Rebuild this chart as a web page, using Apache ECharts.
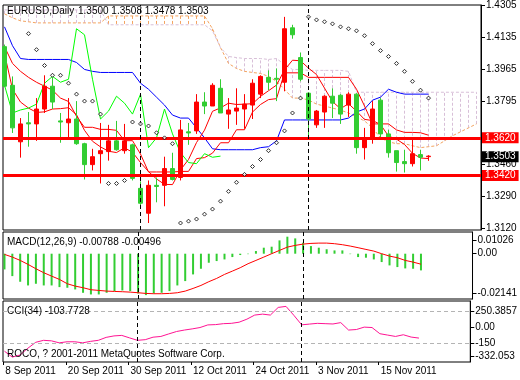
<!DOCTYPE html>
<html><head><meta charset="utf-8">
<script src="https://cdn.jsdelivr.net/npm/echarts@6/dist/echarts.min.js"></script>
<style>html,body{margin:0;padding:0;background:#fff}#c{width:520px;height:380px}</style>
</head><body><div id="c"></div>
<script>
const FONT = 'Liberation Sans';
const FS = 10;
const headerSymbol = 'EURUSD,Daily';
const headerValues = '1.3500 1.3508 1.3478 1.3503';
const macdTitle = 'MACD(12,26,9) -0.00788 -0.00496';
const cciTitle = 'CCI(34) -103.7728';
const copyright = 'ROCO, ? 2001-2011 MetaQuotes Software Corp.';

const opens  = [1.4084,1.3879,1.3579,1.3680,1.3674,1.3753,1.3874,1.3690,1.3680,1.3700,1.3569,1.3458,1.3516,1.3527,1.3584,1.3532,1.3563,1.3332,1.3200,1.3348,1.3348,1.3437,1.3390,1.3632,1.3637,1.3790,1.3769,1.3863,1.3726,1.3742,1.3753,1.3774,1.3832,1.3921,1.3916,1.3895,1.4184,1.4026,1.3837,1.3669,1.3737,1.3821,1.3826,1.3774,1.3832,1.3548,1.3600,1.3800,1.3621,1.3532,1.3474,1.3463,1.3511,1.3500];
const closes = [1.3874,1.3653,1.3674,1.3674,1.3753,1.3874,1.3790,1.3684,1.3700,1.3569,1.3458,1.3500,1.3532,1.3584,1.3537,1.3584,1.3385,1.3253,1.3348,1.3342,1.3437,1.3379,1.3642,1.3626,1.3790,1.3769,1.3879,1.3732,1.3748,1.3758,1.3779,1.3890,1.3926,1.3895,1.3911,1.4179,1.4147,1.3911,1.3700,1.3742,1.3821,1.3784,1.3726,1.3832,1.3548,1.3600,1.3753,1.3621,1.3521,1.3469,1.3463,1.3516,1.3497,1.3503];
const lows   = [1.3869,1.3626,1.3495,1.3553,1.3584,1.3732,1.3753,1.3574,1.3590,1.3563,1.3379,1.3427,1.3358,1.3479,1.3532,1.3516,1.3374,1.3232,1.3148,1.3258,1.3237,1.3374,1.3374,1.3563,1.3621,1.3726,1.3769,1.3732,1.3648,1.3669,1.3648,1.3700,1.3811,1.3853,1.3795,1.3847,1.4126,1.3900,1.3600,1.3653,1.3653,1.3705,1.3674,1.3711,1.3516,1.3485,1.3569,1.3590,1.3495,1.3421,1.3416,1.3448,1.3427,1.3478];
const highs  = [1.4095,1.3926,1.3705,1.3737,1.3811,1.3932,1.3921,1.3732,1.3811,1.3795,1.3574,1.3542,1.3679,1.3669,1.3690,1.3674,1.3569,1.3369,1.3374,1.3390,1.3500,1.3521,1.3695,1.3679,1.3832,1.3842,1.3890,1.3911,1.3811,1.3863,1.3832,1.3911,1.3932,1.3958,1.3968,1.4242,1.4200,1.4053,1.3842,1.3748,1.3826,1.3863,1.3832,1.3842,1.3837,1.3653,1.3795,1.3811,1.3642,1.3532,1.3537,1.3590,1.3537,1.3508];

const tenkan = [1.4084,1.3995,1.3953,1.3921,1.3895,1.3874,1.3853,1.3811,1.3793,1.3714,1.3656,1.3656,1.3645,1.3645,1.3640,1.3585,1.3585,1.3514,1.3419,1.3419,1.3419,1.3419,1.3422,1.3422,1.3490,1.3495,1.3519,1.3574,1.3574,1.3643,1.3643,1.3737,1.3777,1.3803,1.3808,1.3945,1.3945,1.3945,1.3921,1.3921,1.3921,1.3921,1.3921,1.3921,1.3858,1.3769,1.3674,1.3674,1.3674,1.3642,1.3629,1.3629,1.3627,1.3614];
const kijun = [1.4189,1.4089,1.4021,1.4016,1.4016,1.4016,1.4016,1.4016,1.4016,1.4000,1.3963,1.3953,1.3947,1.3947,1.3947,1.3947,1.3947,1.3890,1.3858,1.3816,1.3774,1.3721,1.3705,1.3705,1.3653,1.3600,1.3542,1.3537,1.3537,1.3537,1.3537,1.3537,1.3548,1.3553,1.3584,1.3695,1.3695,1.3695,1.3695,1.3695,1.3695,1.3695,1.3695,1.3705,1.3737,1.3753,1.3800,1.3816,1.3858,1.3842,1.3832,1.3832,1.3832,1.3832];
const ma5 = [1.4047,1.3858,1.3790,1.3758,1.3735,1.3738,1.3753,1.3755,1.3760,1.3723,1.3640,1.3582,1.3552,1.3529,1.3522,1.3547,1.3524,1.3469,1.3421,1.3382,1.3353,1.3352,1.3430,1.3485,1.3575,1.3641,1.3741,1.3759,1.3784,1.3777,1.3779,1.3781,1.3820,1.3850,1.3880,1.3960,1.4012,1.4009,1.3970,1.3936,1.3864,1.3792,1.3755,1.3781,1.3742,1.3698,1.3692,1.3671,1.3609,1.3593,1.3565,1.3518,1.3493,1.3490];
const chikou = [1.3879,1.3732,1.3748,1.3758,1.3779,1.3890,1.3926,1.3895,1.3911,1.4179,1.4147,1.3911,1.3700,1.3742,1.3821,1.3784,1.3726,1.3832,1.3548,1.3600,1.3753,1.3621,1.3521,1.3469,1.3463,1.3516,1.3497,1.3503];
const senkouA = [1.4258,1.4237,1.4221,1.4216,1.4210,1.4210,1.4210,1.4210,1.4210,1.4210,1.4210,1.4210,1.4210,1.4247,1.4247,1.4247,1.4247,1.4247,1.4247,1.4247,1.4247,1.4247,1.4247,1.4247,1.4247,1.4247,1.4179,1.4079,1.3995,1.3968,1.3953,1.3947,1.3942,1.3926,1.3900,1.3858,1.3811,1.3811,1.3801,1.3779,1.3769,1.3758,1.3747,1.3732,1.3711,1.3690,1.3653,1.3600,1.3579,1.3569,1.3569,1.3558,1.3548,1.3553,1.3558,1.3584,1.3611,1.3632,1.3653,1.3674];
const senkouB = [1.4279,1.4279,1.4279,1.4279,1.4279,1.4279,1.4279,1.4279,1.4279,1.4279,1.4279,1.4279,1.4279,1.4200,1.4200,1.4200,1.4200,1.4200,1.4200,1.4200,1.4200,1.4200,1.4200,1.4200,1.4200,1.4200,1.4168,1.4079,1.4032,1.4026,1.4021,1.4021,1.4021,1.4016,1.4021,1.3989,1.3963,1.3963,1.3958,1.3958,1.3958,1.3958,1.3958,1.3953,1.3842,1.3842,1.3842,1.3842,1.3842,1.3842,1.3842,1.3842,1.3842,1.3842,1.3842,1.3842,1.3842,1.3842,1.3842,1.3842];
const sar = [null,null,null,1.4153,1.4068,1.3984,1.3932,1.3932,1.3890,1.3832,1.3795,1.3795,1.3726,1.3358,1.3358,1.3374,1.3684,1.3674,1.3663,1.3627,1.3600,1.3569,1.3148,1.3158,1.3169,1.3195,1.3222,1.3264,1.3316,1.3364,1.3406,1.3448,1.3485,1.3532,1.3574,1.3637,1.3732,1.3811,1.4242,1.4226,1.4216,1.4205,1.4189,1.4179,1.4168,1.4142,1.4100,1.4063,1.4032,1.3995,1.3953,1.3900,1.3853,1.3811];

const levelPrices = [1.3620, 1.3420];
const bidPrice = 1.3503;
const separatorBars = [17, 38];
const priceTicks = [1.3120,1.3290,1.3460,1.3625,1.3795,1.3965,1.4135,1.4305];
const priceLabels = [1.3120,1.3290,1.3460,1.3795,1.3965,1.4135,1.4305];

const macdHist = [-0.00743,-0.01059,-0.01326,-0.01500,-0.01421,-0.01500,-0.01500,-0.01579,-0.01610,-0.01689,-0.01847,-0.01925,-0.01925,-0.01847,-0.01768,-0.01736,-0.01768,-0.01878,-0.01957,-0.01878,-0.01847,-0.01768,-0.01500,-0.01294,-0.00979,-0.00711,-0.00427,-0.00348,-0.00270,-0.00159,-0.00063,-0.00020,0.00126,0.00284,0.00331,0.00629,0.00804,0.00724,0.00520,0.00361,0.00284,0.00210,0.00156,0.00156,-0.00020,-0.00159,-0.00189,-0.00270,-0.00395,-0.00553,-0.00632,-0.00695,-0.00711,-0.00788];
const macdSignal = [-0.00033,-0.00159,-0.00317,-0.00506,-0.00711,-0.00899,-0.01059,-0.01216,-0.01421,-0.01532,-0.01608,-0.01703,-0.01736,-0.01768,-0.01783,-0.01797,-0.01816,-0.01845,-0.01878,-0.01892,-0.01892,-0.01878,-0.01845,-0.01768,-0.01641,-0.01500,-0.01324,-0.01168,-0.00979,-0.00823,-0.00662,-0.00473,-0.00317,-0.00160,0.00000,0.00156,0.00312,0.00393,0.00454,0.00487,0.00501,0.00501,0.00473,0.00426,0.00361,0.00284,0.00203,0.00123,0.00000,-0.00113,-0.00189,-0.00317,-0.00397,-0.00496];
const macdTickValues = [0.00648, 0, -0.01857];
const macdTickLabels = ['0.01026', '0.00', '-0.02141'];

const cci = [-229,-285,-265,-200,-144,-125,-130,-149,-139,-139,-149,-135,-125,-97,-83,-78,-102,-125,-119,-95,-88,-64,-41,-27,-16,-3,22,25,34,37,48,77,116,125,116,189,199,114,23,30,37,34,31,44,-27,-22,1,-3,-62,-75,-88,-72,-94,-103.77];
const cciLevels = [150, -150];
const cciTickValues = [155, 0, -150, -275];
const cciTickLabels = ['250.3857', '0.00', '-150', '-332.053'];

const dateTickBars = [0, 8, 16, 24, 32, 40, 48];
const dateTickLabels = ['8 Sep 2011','20 Sep 2011','30 Sep 2011','12 Oct 2011','24 Oct 2011','3 Nov 2011','15 Nov 2011'];

const C_RED = '#ff0000', C_GREEN = '#32cd32', C_LIME = '#00ff00', C_BLUE = '#0000ff';
const C_SANDY = '#f4a460', C_THISTLE = '#d8bfd8', C_PINK = '#ff1493';

const pairs = arr => arr.map((v, i) => [i, v]);
const nearestLabel = (vals, labels) => v => {
  let best = 0;
  vals.forEach((x, k) => { if (Math.abs(x - v) < Math.abs(vals[best] - v)) best = k; });
  return labels[best];
};

const XMIN = -0.1875, XMAX = 59.5625;
const TICK_SHIFT = 0.15;
const grids = [
  { left: 3, right: 39, top: 3, height: 227 },
  { left: 3, right: 39, top: 232, height: 67 },
  { left: 3, right: 39, top: 301, height: 61 }
];
const gridStyle = { show: true, borderColor: '#000', borderWidth: 1, backgroundColor: '#fff' };

const hiddenX = gi => ({
  type: 'value', gridIndex: gi, min: XMIN, max: XMAX,
  axisLine: { show: false, onZero: false }, axisTick: { show: false }, axisLabel: { show: false }, splitLine: { show: false }
});

const yBase = (gi, min, max, tickVals, labelVals, fmt) => ({
  type: 'value', gridIndex: gi, position: 'right', min, max, scale: true,
  axisLine: { show: true, onZero: false, lineStyle: { color: '#000', width: 1 } },
  axisTick: { show: true, inside: false, length: 4, lineStyle: { color: '#000' }, customValues: tickVals },
  axisLabel: { show: true, margin: 5, color: '#000', fontFamily: FONT, fontSize: FS, customValues: labelVals, formatter: fmt, align: 'left', hideOverlap: false },
  splitLine: { show: false }
});

const sepData = separatorBars.map(b => ({ xAxis: b, lineStyle: { color: '#000', width: 1, type: [4, 3] }, label: { show: false } }));

const boxLabel = (text, bg) => ({
  show: true, position: 'end', distance: 1, formatter: text, color: '#fff', backgroundColor: bg,
  fontFamily: FONT, fontSize: FS, lineHeight: 10, padding: [1, 3, 0, 3]
});

const chart = echarts.init(document.getElementById('c'), null, { renderer: 'canvas' });
chart.setOption({
  animation: false,
  backgroundColor: '#fff',
  grid: grids.map(g => Object.assign({}, g, gridStyle)),
  xAxis: [
    hiddenX(0), hiddenX(1),
    {
      type: 'value', gridIndex: 2, min: XMIN, max: XMAX,
      axisLine: { show: false, onZero: false },
      axisTick: { show: true, length: 3, lineStyle: { color: '#000' }, customValues: dateTickBars.map(b => b - TICK_SHIFT) },
      axisLabel: { show: true, margin: 4, color: '#000', fontFamily: FONT, fontSize: FS, align: 'left', padding: [0, 0, 0, 2], hideOverlap: false,
        customValues: dateTickBars.map(b => b - TICK_SHIFT),
        formatter: v => dateTickLabels[dateTickBars.indexOf(Math.round(v + TICK_SHIFT))] },
      splitLine: { show: false }
    }
  ],
  yAxis: [
    yBase(0, 1.3111, 1.4305, priceTicks, priceLabels, v => v.toFixed(4)),
    yBase(1, -0.02141, 0.01026, macdTickValues, macdTickValues, nearestLabel(macdTickValues, macdTickLabels)),
    yBase(2, -332.053, 250.3857, cciTickValues, cciTickValues, nearestLabel(cciTickValues, cciTickLabels))
  ],
  graphic: [
    { type: 'text', x: 7, y: 11, z: 100, style: { text: headerSymbol, fill: '#000', fontFamily: FONT, fontSize: FS, verticalAlign: 'middle' } },
    { type: 'text', x: 78, y: 11, z: 100, style: { text: headerValues, fill: '#000', fontFamily: FONT, fontSize: FS, verticalAlign: 'middle' } },
    { type: 'text', x: 7, y: 242, z: 100, style: { text: macdTitle, fill: '#000', fontFamily: FONT, fontSize: FS, verticalAlign: 'middle' } },
    { type: 'text', x: 7, y: 311, z: 100, style: { text: cciTitle, fill: '#000', fontFamily: FONT, fontSize: FS, verticalAlign: 'middle' } },
    { type: 'text', x: 7, y: 354, z: 100, style: { text: copyright, fill: '#000', fontFamily: FONT, fontSize: FS, verticalAlign: 'middle' } }
  ],
  series: [
    {
      type: 'custom', xAxisIndex: 0, yAxisIndex: 0, z: 1, clip: true, silent: true,
      data: senkouA.map((a, i) => [i, a, senkouB[i]]),
      renderItem: (params, api) => {
        const x = api.value(0), a = api.value(1), b = api.value(2);
        const p1 = api.coord([x, a]), p2 = api.coord([x, b]);
        return { type: 'line', shape: { x1: p1[0], y1: p1[1], x2: p2[0], y2: p2[1] },
          style: { stroke: a >= b ? C_SANDY : C_THISTLE, lineWidth: 1, lineDash: [3, 2] } };
      }
    },
    { type: 'line', xAxisIndex: 0, yAxisIndex: 0, z: 2, data: pairs(senkouA), showSymbol: false, silent: true,
      lineStyle: { color: C_SANDY, width: 1, type: [3, 2] } },
    { type: 'line', xAxisIndex: 0, yAxisIndex: 0, z: 2, data: pairs(senkouB), showSymbol: false, silent: true,
      lineStyle: { color: C_THISTLE, width: 1, type: [3, 2] } },
    { type: 'line', xAxisIndex: 0, yAxisIndex: 0, z: 3, data: pairs(kijun), showSymbol: false, silent: true,
      lineStyle: { color: C_BLUE, width: 1 } },
    { type: 'line', xAxisIndex: 0, yAxisIndex: 0, z: 3, data: pairs(tenkan), showSymbol: false, silent: true,
      lineStyle: { color: C_RED, width: 1 } },
    { type: 'line', xAxisIndex: 0, yAxisIndex: 0, z: 3, data: pairs(ma5), showSymbol: false, silent: true,
      lineStyle: { color: C_RED, width: 1 } },
    { type: 'line', xAxisIndex: 0, yAxisIndex: 0, z: 3, data: pairs(chikou), showSymbol: false, silent: true,
      lineStyle: { color: C_LIME, width: 1 } },
    {
      type: 'candlestick', xAxisIndex: 0, yAxisIndex: 0, z: 4, barWidth: 5, clip: true, silent: true,
      encode: { x: 0, y: [1, 2, 3, 4] },
      data: opens.map((o, i) => [i, o, closes[i], lows[i], highs[i]]),
      itemStyle: { color: C_RED, borderColor: C_RED, color0: C_GREEN, borderColor0: C_GREEN, borderWidth: 1 }
    },
    { type: 'scatter', xAxisIndex: 0, yAxisIndex: 0, z: 5, silent: true,
      data: sar.map((v, i) => v == null ? null : [i, v]).filter(d => d),
      symbol: 'diamond', symbolSize: 4,
      itemStyle: { color: '#fff', borderColor: '#000', borderWidth: 1 } },
    {
      type: 'line', xAxisIndex: 0, yAxisIndex: 0, z: 10, data: [], silent: true,
      markLine: {
        silent: true, symbol: ['none', 'none'], animation: false,
        data: [
          ...levelPrices.map(p => ({ yAxis: p, lineStyle: { color: C_RED, width: 3, type: 'solid' }, label: boxLabel(p.toFixed(4), C_RED) })),
          { yAxis: bidPrice, lineStyle: { color: 'rgba(0,0,0,0)', width: 1, type: 'solid' }, label: boxLabel(bidPrice.toFixed(4), '#000') },
          ...sepData
        ]
      }
    },
    { type: 'bar', xAxisIndex: 1, yAxisIndex: 1, z: 2, data: pairs(macdHist), barWidth: 2, silent: true,
      itemStyle: { color: C_GREEN },
      markLine: { silent: true, symbol: ['none', 'none'], animation: false, data: sepData } },
    { type: 'line', xAxisIndex: 1, yAxisIndex: 1, z: 3, data: pairs(macdSignal), showSymbol: false, silent: true,
      lineStyle: { color: C_RED, width: 1 } },
    { type: 'line', xAxisIndex: 2, yAxisIndex: 2, z: 3, data: pairs(cci), showSymbol: false, silent: true,
      lineStyle: { color: C_PINK, width: 1 },
      markLine: {
        silent: true, symbol: ['none', 'none'], animation: false,
        data: [
          ...cciLevels.map(l => ({ yAxis: l, lineStyle: { color: '#b4b4b4', width: 1, type: [4, 3] }, label: { show: false } })),
          ...sepData
        ]
      } }
  ]
});
</script>
</body></html>
